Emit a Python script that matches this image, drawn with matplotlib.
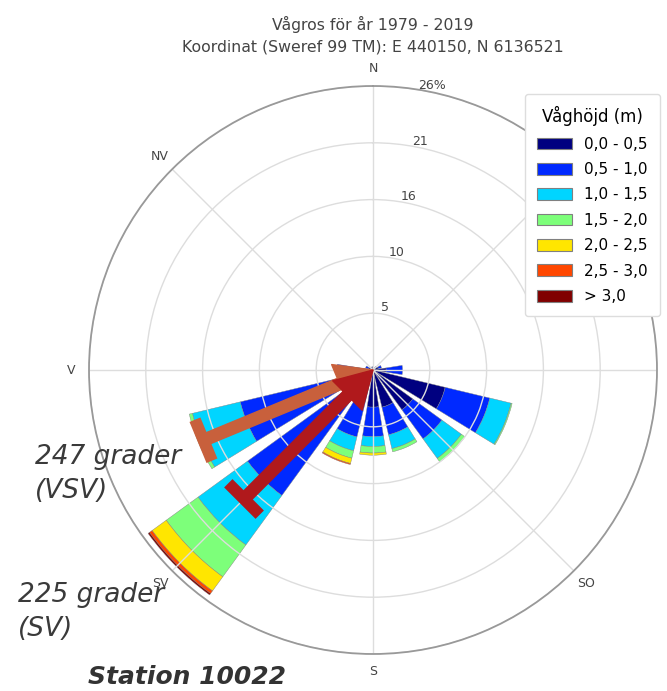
import matplotlib.pyplot as plt
from matplotlib.transforms import offset_copy
import numpy as np

# wave rose, share of time (%) per direction sector and wave height class
directions = np.arange(0, 360, 22.5)  # N, NNE, NE, ... NNW
height_classes = ['0,0 - 0,5', '0,5 - 1,0', '1,0 - 1,5', '1,5 - 2,0',
                  '2,0 - 2,5', '2,5 - 3,0', '> 3,0']
h_00_05 = [0.2, 0.2, 0.3, 0.5, 1.2, 6.8, 4.5, 3.5, 3.4, 3.0, 3.0, 2.5, 1.5, 0.4, 0.2, 0.2]
h_05_10 = [0.1, 0.0, 0.1, 0.3, 1.5, 4.2, 3.3, 2.6, 2.7, 3.3, 11.2, 10.0, 1.8, 0.3, 0.1, 0.1]
h_10_15 = [0.0, 0.0, 0.0, 0.0, 0.0, 2.0, 2.2, 1.3, 0.9, 1.3, 5.6, 4.5, 0.0, 0.0, 0.0, 0.0]
h_15_20 = [0.0, 0.0, 0.0, 0.0, 0.0, 0.1, 0.4, 0.3, 0.6, 0.7, 3.6, 0.3, 0.0, 0.0, 0.0, 0.0]
h_20_25 = [0.0, 0.0, 0.0, 0.0, 0.0, 0.0, 0.0, 0.0, 0.2, 0.5, 1.6, 0.0, 0.0, 0.0, 0.0, 0.0]
h_25_30 = [0.0, 0.0, 0.0, 0.0, 0.0, 0.0, 0.0, 0.0, 0.0, 0.1, 0.3, 0.0, 0.0, 0.0, 0.0, 0.0]
h_30 = [0.0, 0.0, 0.0, 0.0, 0.0, 0.0, 0.0, 0.0, 0.0, 0.0, 0.15, 0.0, 0.0, 0.0, 0.0, 0.0]
r_max = 26

compass = ['N', 'NO', 'Ö', 'SO', 'S', 'SV', 'V', 'NV']
# highlighted directions (degrees) and their labels
dir_vsv, dir_sv = 247.5, 225
label_vsv = '247 grader\n(VSV)'
label_sv = '225 grader\n(SV)'

series = [h_00_05, h_05_10, h_10_15, h_15_20, h_20_25, h_25_30, h_30]
colors = plt.cm.jet(np.linspace(0, 1, len(series)))

fig = plt.figure(figsize=(6.67, 6.91), dpi=100)
ax = fig.add_axes([89 / 667, 37 / 691, 568 / 667, 568 / 691], projection='polar')
ax.set_theta_zero_location('N')
ax.set_theta_direction(-1)

theta = np.radians(directions)
width = 2 * np.pi / len(directions) * 0.8
bottom = np.zeros(len(directions))
handles = []
for vals, col, lab in zip(series, colors, height_classes):
    vals = np.asarray(vals)
    m = vals > 0
    ax.bar(theta[m], vals[m], width=width, bottom=bottom[m], color=col,
           edgecolor='grey', linewidth=0.3, label=lab)
    handles.append(plt.Rectangle((0, 0), 1, 1, facecolor=col, edgecolor='grey', linewidth=0.8))
    bottom += vals

ax.set_ylim(0, r_max)
ticks = np.linspace(0, r_max, 6)[1:]
ax.set_yticks(ticks)
ax.set_yticklabels([])
for i, t in enumerate(ticks):
    txt = f'{t:.0f}%' if i == len(ticks) - 1 else f'{t:.0f}'
    ax.text(np.radians(12), t, txt, ha='center', va='bottom', fontsize=9, color='#444444')

ax.set_xticks(np.radians(np.arange(0, 360, 45)))
ax.set_xticklabels(compass, fontsize=9, color='#444444')
ax.get_xticklabels()[1].set_visible(False)  # sits under the legend
ax.tick_params(axis='x', pad=2)
ax.grid(color='#dddddd', linewidth=1.0)
ax.spines['polar'].set_color('#999999')
ax.spines['polar'].set_linewidth(1.3)

fig.text(373 / 667, 1 - 35 / 691, 'Vågros för år 1979 - 2019\nKoordinat (Sweref 99 TM): E 440150, N 6136521',
         ha='center', va='center', fontsize=11.3, color='#444444', linespacing=1.55)

leg = fig.legend(handles, height_classes, title='Våghöjd (m)', loc='upper right',
                 bbox_to_anchor=(660 / 667, 1 - 94 / 691), fontsize=11, title_fontsize=12,
                 handlelength=2.3, handleheight=0.8, labelspacing=0.68, handletextpad=0.8,
                 borderpad=0.8, borderaxespad=0, framealpha=1, edgecolor='#dddddd')
leg.get_frame().set_linewidth(1.0)


def mark_direction(deg, r_tail, color):
    th = np.radians(deg)
    ax.annotate('', xy=(th, 0), xytext=(th, r_tail),
                arrowprops=dict(arrowstyle='simple,head_length=2.6,head_width=3.0,tail_width=0.85',
                                color=color, shrinkA=0, shrinkB=0, mutation_scale=10))
    # cross bar at the tail, perpendicular to the shaft
    half = 16
    px, py = np.cos(th) * half, -np.sin(th) * half
    ax.annotate('', xy=(th, r_tail), xycoords=offset_copy(ax.transData, fig, x=px, y=py, units='points'),
                xytext=(th, r_tail), textcoords=offset_copy(ax.transData, fig, x=-px, y=-py, units='points'),
                arrowprops=dict(arrowstyle='-', color=color, lw=8.5, shrinkA=0, shrinkB=0,
                                capstyle='butt'))


mark_direction(dir_vsv, 16.8, '#c8603c')
mark_direction(dir_sv, 16.7, '#b0191c')

fig.text(35 / 667, 1 - 474 / 691, label_vsv, ha='left', va='center', fontsize=19,
         style='italic', color='#3a3a3a', linespacing=1.45)
fig.text(18 / 667, 1 - 612 / 691, label_sv, ha='left', va='center', fontsize=19,
         style='italic', color='#3a3a3a', linespacing=1.45)
fig.text(88 / 667, 1 - 677 / 691, 'Station 10022', ha='left', va='center', fontsize=18,
         style='italic', weight='bold', color='#333333')

fig.savefig('out.png', dpi=100)
